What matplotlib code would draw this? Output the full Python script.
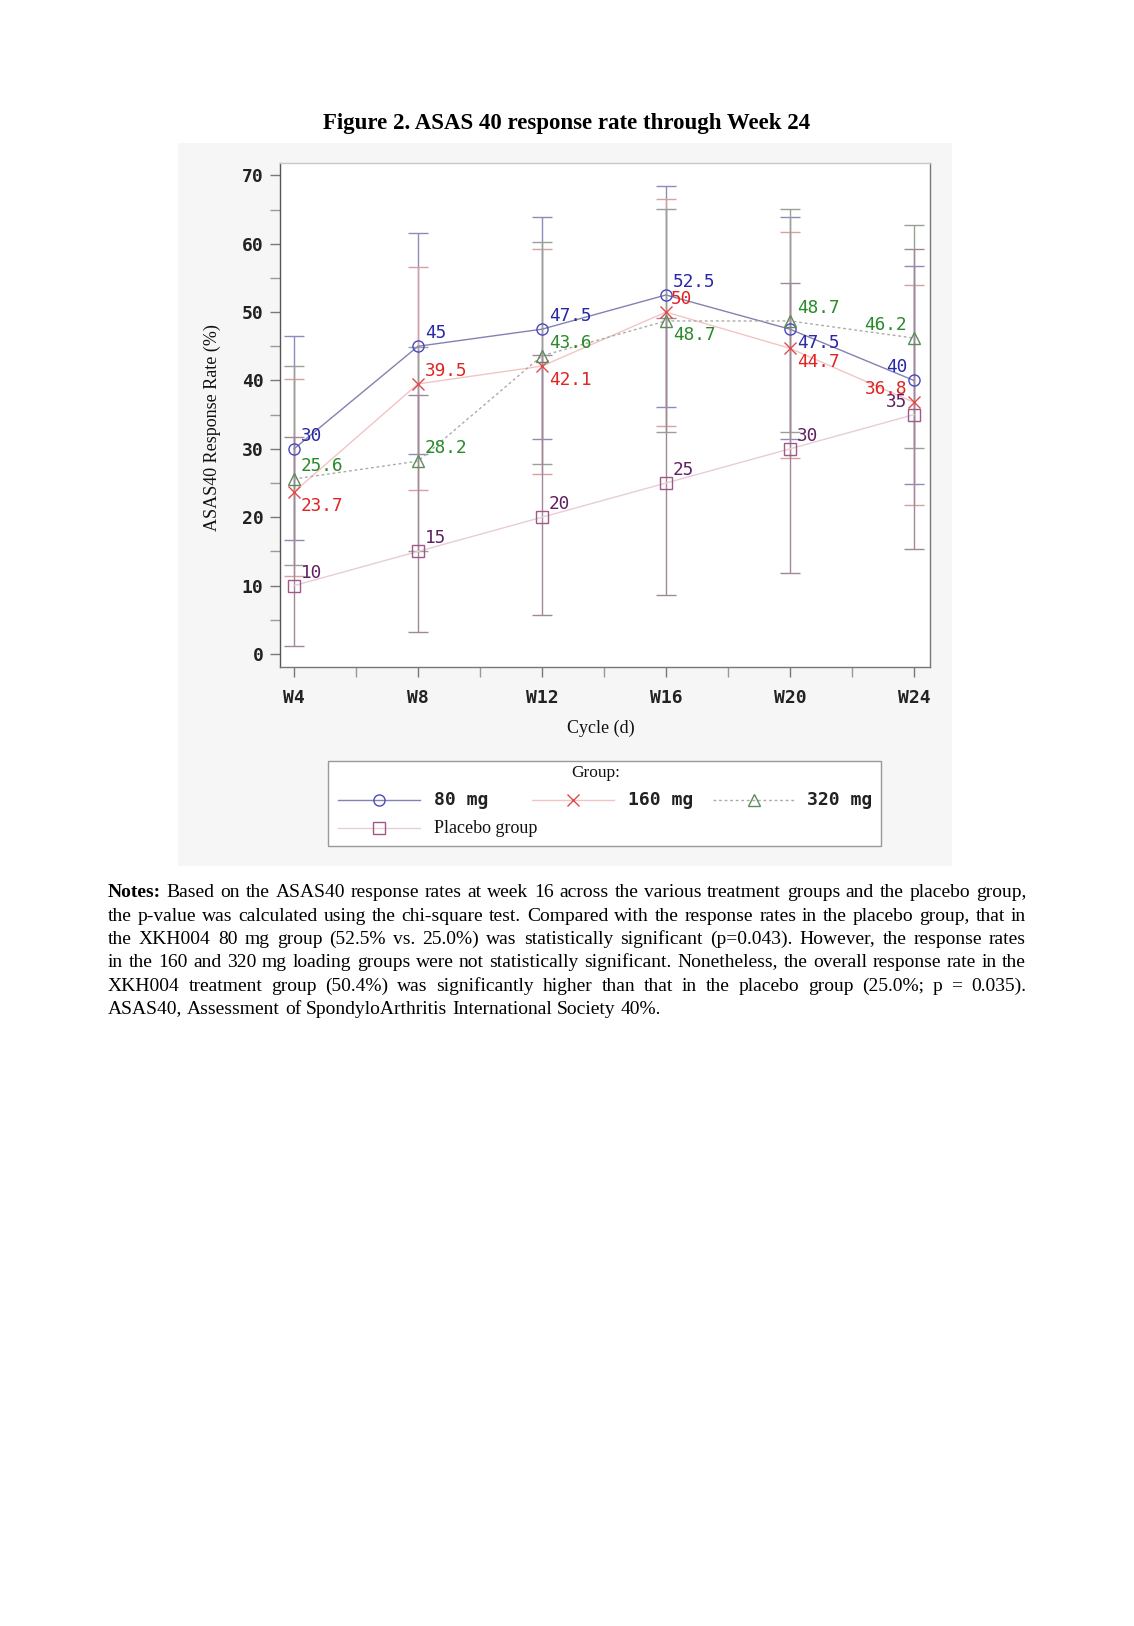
import matplotlib
matplotlib.use("Agg")
import matplotlib.pyplot as plt
from matplotlib.patches import Rectangle
from matplotlib.lines import Line2D
from matplotlib.ticker import MultipleLocator

# ---------------- data ----------------
weeks = ["W4", "W8", "W12", "W16", "W20", "W24"]
groups = ["80 mg", "160 mg", "320 mg", "Placebo group"]

rate_80 = [30, 45, 47.5, 52.5, 47.5, 40]
lo_80 = [16.6, 29.3, 31.5, 36.1, 31.5, 24.9]
hi_80 = [46.5, 61.5, 63.9, 68.5, 63.9, 56.7]

rate_160 = [23.7, 39.5, 42.1, 50, 44.7, 36.8]
lo_160 = [11.4, 24.0, 26.3, 33.4, 28.6, 21.8]
hi_160 = [40.2, 56.6, 59.2, 66.6, 61.7, 54.0]

rate_320 = [25.6, 28.2, 43.6, 48.7, 48.7, 46.2]
lo_320 = [13.0, 15.0, 27.8, 32.4, 32.4, 30.1]
hi_320 = [42.1, 44.9, 60.2, 65.1, 65.1, 62.8]

rate_pbo = [10, 15, 20, 25, 30, 35]
lo_pbo = [1.2, 3.2, 5.7, 8.7, 11.9, 15.4]
hi_pbo = [31.7, 37.9, 43.7, 49.1, 54.3, 59.2]

label_80 = ["30", "45", "47.5", "52.5", "47.5", "40"]
label_160 = ["23.7", "39.5", "42.1", "50", "44.7", "36.8"]
label_320 = ["25.6", "28.2", "43.6", "48.7", "48.7", "46.2"]
label_pbo = ["10", "15", "20", "25", "30", "35"]

notes_lines = [
    "Based on the ASAS40 response rates at week 16 across the various treatment groups and the placebo group,",
    "the p-value was calculated using the chi-square test. Compared with the response rates in the placebo group, that in",
    "the XKH004 80 mg group (52.5% vs. 25.0%) was statistically significant (p=0.043). However, the response rates",
    "in the 160 and 320 mg loading groups were not statistically significant. Nonetheless, the overall response rate in the",
    "XKH004 treatment group (50.4%) was significantly higher than that in the placebo group (25.0%; p = 0.035).",
    "ASAS40, Assessment of SpondyloArthritis International Society 40%.",
]

# ---------------- styles ----------------
W, H = 1134, 1626
fig = plt.figure(figsize=(W / 100, H / 100), dpi=100)
fig.patch.set_facecolor("white")

def fx(x):
    return x / W

def fy(y):
    return 1 - y / H

SERIF = ["Liberation Serif", "DejaVu Serif"]
MONO = ["DejaVu Sans Mono"]

# faint gray panel behind chart (scan background)
fig.patches.append(Rectangle((fx(178), fy(866)), fx(952) - fx(178), fy(143) - fy(866),
                             transform=fig.transFigure, facecolor="#f6f6f6",
                             edgecolor="none", zorder=-5))

ax = fig.add_axes([fx(280), fy(667), fx(930) - fx(280), fy(163) - fy(667)])
ax.set_facecolor("white")
ax.set_zorder(2)

x = list(range(len(weeks)))

series = [
    dict(rate=rate_80, lo=lo_80, hi=hi_80, labels=label_80, line="#8282b0", ls="-",
         mk="o", mec="#4848c0", tc="#2828a8", ec="#8c8cbc",
         pos=["ur", "ur", "ur", "ur", "lr", "ul"]),
    dict(rate=rate_160, lo=lo_160, hi=hi_160, labels=label_160, line="#f4c4c4", ls="-",
         mk="x", mec="#e04a4a", tc="#e02424", ec="#d8a0a0",
         pos=["lr", "ur", "lr", "r50", "lr", "ul"]),
    dict(rate=rate_320, lo=lo_320, hi=hi_320, labels=label_320, line="#a8aca8", ls=(0, (2, 2)),
         mk="^", mec="#5c8c5c", tc="#2a8a2a", ec="#98a098",
         pos=["ur", "ur", "ur", "lr", "ur", "ul"]),
    dict(rate=rate_pbo, lo=lo_pbo, hi=hi_pbo, labels=label_pbo, line="#e8ccd8", ls="-",
         mk="s", mec="#a05888", tc="#602060", ec="#a08898",
         pos=["ur", "ur", "ur", "ur", "ur", "ul"]),
]

for s in series:
    yerr = [[r - l for r, l in zip(s["rate"], s["lo"])],
            [h - r for r, h in zip(s["rate"], s["hi"])]]
    ax.errorbar(x, s["rate"], yerr=yerr, fmt="none", ecolor=s["ec"], elinewidth=1.0,
                capsize=7.5, capthick=1.0, zorder=2)

for s in series:
    ax.plot(x, s["rate"], color=s["line"], linestyle=s["ls"], linewidth=1.0, zorder=3)
    ax.plot(x, s["rate"], linestyle="none", marker=s["mk"], markersize=8,
            markerfacecolor="none", markeredgecolor=s["mec"], markeredgewidth=1.0, zorder=4)

offsets = {"ur": (7, 13, "left"), "lr": (7, -14, "left"), "ul": (-7, 13, "right"),
           "r50": (5, 13, "left")}
for s in series:
    for xi, yi, lab, p in zip(x, s["rate"], s["labels"], s["pos"]):
        dx, dy, ha = offsets[p]
        ax.annotate(lab, (xi, yi), xytext=(dx, dy), textcoords="offset pixels",
                    ha=ha, va="center", fontsize=12.8, family=MONO, color=s["tc"],
                    zorder=5)

ax.set_xlim(-0.113, 5.13)
ax.set_ylim(-1.9, 71.8)
ax.set_xticks(x)
ax.set_xticklabels(weeks)
ax.xaxis.set_minor_locator(MultipleLocator(0.5))
ax.yaxis.set_major_locator(MultipleLocator(10))
ax.yaxis.set_minor_locator(MultipleLocator(5))
ax.tick_params(axis="both", which="major", direction="out", length=7, width=1,
               color="#777777", labelsize=13, labelcolor="#222222")
ax.tick_params(axis="both", which="minor", direction="out", length=7, width=1,
               color="#999999")
ax.tick_params(axis="x", which="major", pad=9)
ax.tick_params(axis="y", which="major", pad=5)
for lab in ax.get_xticklabels() + ax.get_yticklabels():
    lab.set_family(MONO)
    lab.set_fontweight("bold")

for side in ["left", "bottom", "right"]:
    ax.spines[side].set_color("#777777")
    ax.spines[side].set_linewidth(1.0)
ax.spines["left"].set_color("#555555")
ax.spines["top"].set_color("#c8c8c8")
ax.spines["top"].set_linewidth(1.0)

# axis labels and title (pixel positions)
fig.text(fx(212), fy(428), "ASAS40 Response Rate (%)", rotation=90, ha="center",
         va="center", fontsize=13, family=SERIF, color="#111111")
fig.text(fx(601), fy(728), "Cycle (d)", ha="center", va="center", fontsize=13,
         family=SERIF, color="#111111")
fig.text(fx(567), fy(124), "Figure 2. ASAS 40 response rate through Week 24",
         ha="center", va="center", fontsize=16.5, family=SERIF, fontweight="bold",
         color="black")

# ---------------- legend (manual) ----------------
fig.patches.append(Rectangle((fx(328), fy(846)), fx(881) - fx(328), fy(761) - fy(846),
                             transform=fig.transFigure, facecolor="white",
                             edgecolor="#999999", linewidth=1.0, zorder=1))
fig.text(fx(596), fy(773), "Group:", ha="center", va="center", fontsize=12.5,
         family=SERIF, color="#111111")

leg_slots = [(338, 420, 434, 800), (532, 614, 628, 800), (713, 794, 807, 800),
             (338, 420, 434, 828)]
for s, name, (x0, x1, tx, yy) in zip(series, groups, leg_slots):
    fig.lines.append(Line2D([fx(x0), fx(x1)], [fy(yy), fy(yy)], transform=fig.transFigure,
                            color=s["line"], linestyle=s["ls"], linewidth=1.0, zorder=2))
    fig.lines.append(Line2D([fx((x0 + x1) / 2)], [fy(yy)], transform=fig.transFigure,
                            linestyle="none", marker=s["mk"], markersize=8,
                            markerfacecolor="none", markeredgecolor=s["mec"],
                            markeredgewidth=1.0, zorder=3))
    if name.endswith("mg"):
        fig.text(fx(tx), fy(yy), name, ha="left", va="center", fontsize=13,
                 family=MONO, fontweight="bold", color="#222222")
    else:
        fig.text(fx(tx), fy(yy), name, ha="left", va="center", fontsize=13,
                 family=SERIF, color="#111111")

# ---------------- notes (justified) ----------------
renderer = fig.canvas.get_renderer()
left_px, right_px = 108, 1026
line_y = [892, 916, 939, 962, 986, 1009]
NFS = 14

def word_width(w, bold=False):
    t = fig.text(0, 0, w, fontsize=NFS, family=SERIF,
                 fontweight="bold" if bold else "normal")
    wd = t.get_window_extent(renderer).width
    t.remove()
    return wd

space = word_width("a a") - word_width("aa")
for i, (line, yy) in enumerate(zip(notes_lines, line_y)):
    words = line.split(" ")
    bolds = [False] * len(words)
    if i == 0:
        words = ["Notes:"] + words
        bolds = [True] + bolds
    widths = [word_width(w, b) for w, b in zip(words, bolds)]
    if i < len(notes_lines) - 1:
        gap = (right_px - left_px - sum(widths)) / (len(words) - 1)
        gap = max(gap, 0.6 * space)
    else:
        gap = space
    xp = left_px
    for w, b, wd in zip(words, bolds, widths):
        fig.text(fx(xp), fy(yy), w, ha="left", va="center", fontsize=NFS, family=SERIF,
                 fontweight="bold" if b else "normal", color="black")
        xp += wd + gap

fig.savefig("out.png", dpi=100)
